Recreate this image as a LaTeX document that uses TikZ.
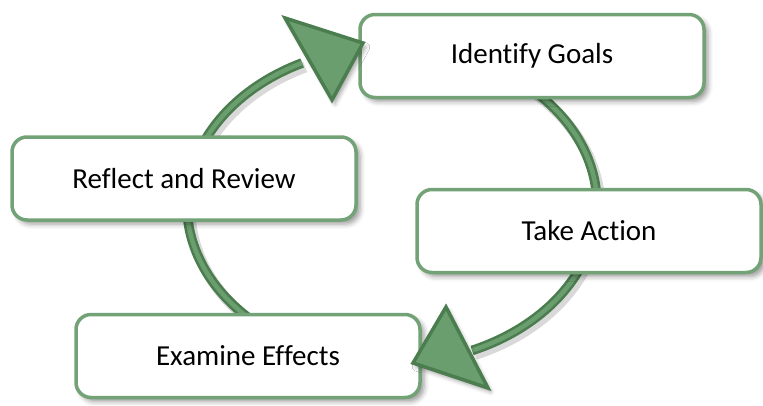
\documentclass[tikz,border=0pt]{standalone}
\usepackage{fontspec}
\setmainfont[Ligatures={NoCommon,NoRare,NoContextual}]{Carlito}
\usetikzlibrary{shadows.blur}
\definecolor{boxgreen}{HTML}{72A276}
\definecolor{arrowdark}{HTML}{4B7D4F}
\definecolor{arrowfill}{HTML}{6A9E6F}
\begin{document}
\begin{tikzpicture}[x=1pt,y=1pt,
  stagebox/.style={draw=boxgreen, line width=3.5pt, fill=white, rounded corners=15pt,
    minimum width=344pt, minimum height=83pt, font=\fontsize{29}{34}\selectfont,
    text=black, inner sep=0pt,
    blur shadow={shadow xshift=4pt, shadow yshift=-4pt, shadow blur radius=5pt, shadow opacity=40}},
  shaft/.style={draw=arrowdark, line width=2.6pt, double=arrowfill, double distance=4.5pt},
  shaftshadow/.style={draw=black, opacity=0.15, line width=11pt},
  headtri/.style={draw=arrowdark, fill=arrowfill, line width=3.5pt, line join=miter,
    blur shadow={shadow xshift=3pt, shadow yshift=-4pt, shadow blur radius=4pt, shadow opacity=35}}
]
\useasboundingbox (0,0) rectangle (763,-405);

% shafts (behind boxes)
\draw[shaftshadow] (395,-209) ++(50:205 and 158) arc[start angle=50, end angle=-67, x radius=205, y radius=158];
\draw[shaftshadow] (395,-209) ++(230:205 and 158) arc[start angle=230, end angle=116, x radius=205, y radius=158];
\draw[shaft] (392,-205) ++(50:205 and 158) coordinate (startA) arc[start angle=50, end angle=-67, x radius=205, y radius=158] coordinate (endA);
\draw[shaft] (392,-205) ++(230:205 and 158) coordinate (startB) arc[start angle=230, end angle=116, x radius=205, y radius=158] coordinate (endB);

% boxes
\node[stagebox] (goals)   at (532,-56)    {Identify Goals};
\node[stagebox] (action)  at (589,-231)   {Take Action};
\node[stagebox] (reflect) at (184,-178.5) {Reflect and Review};
\node[stagebox] (examine) at (248,-356)   {Examine Effects};

% arrow heads
\coordinate (tipA)   at (413,-363);
\coordinate (baseA1) at (446,-307);
\coordinate (baseA2) at (488,-388);
\coordinate (tipB)   at (363,-43);
\coordinate (baseB1) at (285,-18);
\coordinate (baseB2) at (332,-100);
\draw[headtri] (baseA1) -- (tipA) -- (baseA2) -- cycle;
\draw[headtri] (baseB1) -- (tipB) -- (baseB2) -- cycle;
\end{tikzpicture}
\end{document}
